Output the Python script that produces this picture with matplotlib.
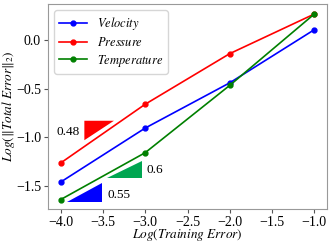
import matplotlib
matplotlib.use("Agg")
import matplotlib.pyplot as plt
from matplotlib.patches import Polygon

plt.rcParams['font.family'] = ['Liberation Serif', 'DejaVu Serif']
plt.rcParams['mathtext.fontset'] = 'stix'

x = [-4.0, -3.0, -2.0, -1.0]
velocity = [-1.46, -0.905, -0.44, 0.106]
pressure = [-1.264, -0.66, -0.14, 0.267]
temperature = [-1.64, -1.158, -0.466, 0.267]

tri_red = [(-3.72, -0.83), (-3.37, -0.83), (-3.72, -1.03)]
tri_green = [(-3.45, -1.421), (-3.035, -1.421), (-3.035, -1.24)]
tri_blue = [(-3.92, -1.662), (-3.508, -1.662), (-3.508, -1.473)]
slopes = ['0.48', '0.6', '0.55']

fig = plt.figure(figsize=(3.32, 2.43), dpi=100)
ax = fig.add_axes([48/332, 1-209/243, (327-48)/332, (209-4)/243])

ax.plot(x, velocity, 'b-', marker='o', ms=3.5, lw=1.2, label=r'$Velocity$')
ax.plot(x, pressure, 'r-', marker='o', ms=3.5, lw=1.2, label=r'$Pressure$')
ax.plot(x, temperature, 'g-', marker='o', ms=3.5, lw=1.2, label=r'$Temperature$')

ax.add_patch(Polygon(tri_red, closed=True, color='red', lw=0))
ax.add_patch(Polygon(tri_green, closed=True, color='#00a651', lw=0))
ax.add_patch(Polygon(tri_blue, closed=True, color='blue', lw=0))

ax.text(-3.77, -0.95, slopes[0], fontsize=9.5, ha='right', va='center')
ax.text(-2.98, -1.336, slopes[1], fontsize=9.5, ha='left', va='center')
ax.text(-3.45, -1.593, slopes[2], fontsize=9.5, ha='left', va='center')

ax.set_xlim(-4.15, -0.85)
ax.set_ylim(-1.737, 0.37)
ax.set_xticks([-4.0, -3.5, -3.0, -2.5, -2.0, -1.5, -1.0])
ax.set_yticks([-1.5, -1.0, -0.5, 0.0])
ax.tick_params(labelsize=10, length=3, pad=2, color='#555555')
for s in ax.spines.values():
    s.set_color('#999999')
ax.set_xlabel(r'$Log(Training\ Error)$', fontsize=9.5)
ax.set_ylabel(r'$Log(\|Total\ Error\|_2)$', fontsize=9.5)
ax.xaxis.set_label_coords(0.5, -0.09)
ax.yaxis.set_label_coords(-0.112, 0.5)
ax.legend(loc='upper left', fontsize=9, handlelength=2.2, borderpad=0.4,
          labelspacing=0.3, handletextpad=0.8)

fig.savefig('out.png', dpi=100)
